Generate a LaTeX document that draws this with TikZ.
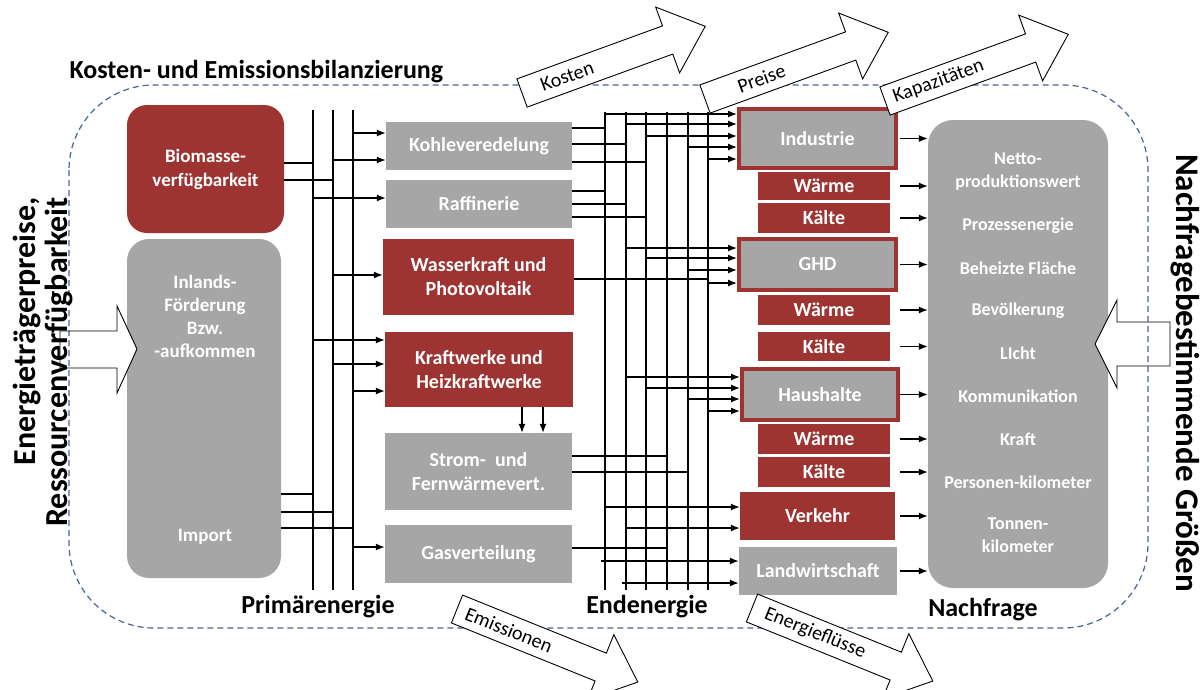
\documentclass[tikz,border=0pt]{standalone}
\usepackage{fontspec}
\setmainfont{Carlito}
\usetikzlibrary{arrows.meta}
\definecolor{myred}{RGB}{158,52,50}
\definecolor{mygray}{RGB}{166,166,166}
\definecolor{dashblue}{RGB}{70,100,150}
\newcommand\myfs[2]{\fontsize{#1}{#2}\selectfont}
\newcommand\hollowarr[7]{%
  \begin{scope}[shift={(#1,#2)},rotate=#3]
    \draw[hollow] (0,-15) -- (#4-40,-15) -- (#4-40,-35) -- (#4,0) -- (#4-40,35) -- (#4-40,15) -- (0,15) -- cycle;
    \node[flow,rotate=#3] (#5) at (#6,0) {#7};
  \end{scope}}
\begin{document}
\begin{tikzpicture}[x=1pt,y=-1pt,
  box/.style={inner sep=0pt,align=center,text=white,font=\bfseries\myfs{20}{24}},
  boxsmall/.style={box,font=\bfseries\myfs{19}{23}},
  redbox/.style={box,fill=myred},
  graybox/.style={box,fill=mygray},
  sectbox/.style={box,fill=mygray,draw=myred,line width=4pt},
  nitem/.style={box,font=\bfseries\myfs{18}{23}},
  line/.style={line width=1.3pt},
  arr/.style={line,-{Latex[length=9pt,width=7pt]}},
  hollow/.style={draw=black,fill=white,line width=0.9pt,line join=miter},
  head/.style={font=\bfseries\myfs{26}{30}},
  flow/.style={font=\myfs{20}{24},inner sep=1pt},
  big/.style={font=\bfseries\myfs{32}{32},inner sep=0pt},
]
\useasboundingbox (0,0) rectangle (1204,689);

% ---------- boxes: primary side
\node[redbox,rounded corners=20pt,minimum width=157pt,minimum height=128pt,font=\bfseries\myfs{19}{24}] (bio) at (205.5,169) {Biomasse-\\verfügbarkeit};
\node[graybox,rounded corners=22pt,minimum width=154pt,minimum height=339pt] (inl) at (204,408.5) {};
\node[boxsmall] (inltxt) at (205,316) {Inlands-\\Förderung\\Bzw.\\-aufkommen};
\node[boxsmall] (imp) at (205,537) {Import};

% ---------- conversion boxes
\node[graybox,minimum width=186pt,minimum height=48pt] (kohle) at (479,146) {Kohleveredelung};
\node[graybox,minimum width=186pt,minimum height=48pt] (raff) at (479,204) {Raffinerie};
\node[redbox,minimum width=191pt,minimum height=76pt] (wass) at (478.5,277) {Wasserkraft und\\Photovoltaik};
\node[redbox,minimum width=188pt,minimum height=75pt] (kraft) at (479,369.5) {Kraftwerke und\\Heizkraftwerke};
\node[graybox,minimum width=187pt,minimum height=77pt] (strom) at (478.5,471.5) {Strom-\ \ und\\Fernwärmevert.};
\node[graybox,minimum width=187pt,minimum height=58pt] (gas) at (478.5,554) {Gasverteilung};

% ---------- sectors
\node[sectbox,minimum width=157pt,minimum height=59pt] (ind) at (817.5,138.5) {Industrie};
\node[redbox,minimum width=132pt,minimum height=28pt] (indW) at (824,186) {Wärme};
\node[redbox,minimum width=132pt,minimum height=30pt] (indK) at (824,218) {Kälte};
\node[sectbox,minimum width=157pt,minimum height=51pt] (ghd) at (817.5,264.5) {GHD};
\node[redbox,minimum width=132pt,minimum height=30pt] (ghdW) at (824,310) {Wärme};
\node[redbox,minimum width=132pt,minimum height=29pt] (ghdK) at (824,346.5) {Kälte};
\node[sectbox,minimum width=156pt,minimum height=51pt] (hh) at (820,394.5) {Haushalte};
\node[redbox,minimum width=132pt,minimum height=30pt] (hhW) at (824,439) {Wärme};
\node[redbox,minimum width=132pt,minimum height=30pt] (hhK) at (824,472) {Kälte};
\node[redbox,minimum width=155pt,minimum height=48pt] (verk) at (817.5,516) {Verkehr};
\node[graybox,minimum width=158pt,minimum height=48pt] (land) at (818,571) {Landwirtschaft};

% ---------- demand box
\node[graybox,rounded corners=25pt,minimum width=180pt,minimum height=468pt] (nach) at (1018,354) {};
\node[nitem] (n1) at (1018,171.5) {Netto-\\produktionswert};
\node[nitem] (n2) at (1018,226) {Prozessenergie};
\node[nitem] (n3) at (1018,268) {Beheizte Fläche};
\node[nitem] (n4) at (1018,311) {Bevölkerung};
\node[nitem] (n5) at (1018,353) {LIcht};
\node[nitem] (n6) at (1018,396) {Kommunikation};
\node[nitem] (n7) at (1018,439) {Kraft};
\node[nitem] (n8) at (1018,482) {Personen-kilometer};
\node[nitem] (n9) at (1018,535.5) {Tonnen-\\kilometer};

% ---------- side hollow arrows
\draw[hollow] (60,331) -- (117,331) -- (117,306) -- (137,349) -- (117,393) -- (117,368) -- (60,368) -- cycle;
\draw[hollow] (1170,322) -- (1117,322) -- (1117,300) -- (1095,344) -- (1117,388) -- (1117,366) -- (1170,366) -- cycle;

% ---------- dashed frame
\draw[dashblue,line width=1.2pt,dash pattern=on 6pt off 4pt,rounded corners=85pt] (69,85) rectangle (1148,628);

% ---------- primary bus
\foreach \n/\x in {1/313,2/333,3/353}{
  \coordinate (p\n t) at (\x,110);
  \coordinate (p\n b) at (\x,590);
  \draw[line] (p\n t) -- (p\n b);
}
\draw[line] (bio.east |- 0,163) -- (p1t |- 0,163);
\draw[line] (bio.east |- 0,180) -- (p2t |- 0,180);
\draw[line] (inl.east |- 0,494) -- (p1t |- 0,494);
\draw[line] (inl.east |- 0,512) -- (p2t |- 0,512);
\draw[line] (inl.east |- 0,528) -- (p3t |- 0,528);
\draw[arr] (p3t |- 0,133) -- (kohle.west |- 0,133);
\draw[arr] (p2t |- 0,160) -- (kohle.west |- 0,160);
\draw[arr] (p1t |- 0,198) -- (raff.west |- 0,198);
\draw[arr] (p2t |- 0,275) -- (wass.west |- 0,275);
\draw[arr] (p1t |- 0,340) -- (kraft.west |- 0,340);
\draw[arr] (p2t |- 0,364) -- (kraft.west |- 0,364);
\draw[arr] (p3t |- 0,391) -- (kraft.west |- 0,391);
\draw[arr] (p3t |- 0,547) -- (gas.west |- 0,547);
\draw[arr] (kraft.south -| 522,0) -- (strom.north -| 522,0);
\draw[arr] (kraft.south -| 543,0) -- (strom.north -| 543,0);

% ---------- final energy bus
\foreach \n/\x in {1/605,2/626,3/646,4/667,5/688,6/708}{
  \coordinate (e\n t) at (\x,112);
  \coordinate (e\n b) at (\x,590);
  \draw[line] (e\n t) -- (e\n b);
}
\draw[line] (kohle.east |- 0,128) -- (e1t |- 0,128);
\draw[line] (kohle.east |- 0,144) -- (e2t |- 0,144);
\draw[line] (kohle.east |- 0,162) -- (e3t |- 0,162);
\draw[line] (raff.east |- 0,191) -- (e1t |- 0,191);
\draw[line] (raff.east |- 0,204) -- (e2t |- 0,204);
\draw[line] (raff.east |- 0,217) -- (e3t |- 0,217);
\draw[line] (wass.east |- 0,279) -- (e6t |- 0,279);
\draw[line] (strom.east |- 0,456) -- (e4t |- 0,456);
\draw[line] (strom.east |- 0,472) -- (e5t |- 0,472);
\draw[line] (gas.east |- 0,548) -- (e4t |- 0,548);
\foreach \e/\y in {1/114,2/124,3/136,5/147,6/159}
  \draw[arr] (e\e t |- 0,\y) -- (ind.west |- 0,\y);
\foreach \e/\y in {2/248,3/258,5/270,6/283}
  \draw[arr] (e\e t |- 0,\y) -- (ghd.west |- 0,\y);
\foreach \e/\y in {2/377,3/388,5/399,6/411}
  \draw[arr] (e\e t |- 0,\y) -- (hh.west |- 0,\y);
\foreach \e/\y in {1/507,2/528}
  \draw[arr] (e\e t |- 0,\y) -- (verk.west |- 0,\y);
\draw[arr] ([xshift=-4pt]e1t |- 0,561) -- (land.west |- 0,561);
\draw[arr] ([xshift=-4pt]e2t |- 0,583) -- (land.west |- 0,583);

% ---------- sector outputs to demand
\coordinate (ra) at (900,0);
\foreach \b in {ind,indW,indK,ghd,ghdW,ghdK,hh,hhW,hhK,verk,land}
  \draw[arr] (ra |- \b.east) -- (nach.west |- \b.east);

% ---------- headings
\node[head] (hprim) at (318,607) {Primärenergie};
\node[head] (hend) at (647,607) {Endenergie};
\node[head] (hnach) at (983,610) {Nachfrage};
\node[head,anchor=west] (hkost) at (66,72) {Kosten- und Emissionsbilanzierung};

% ---------- slanted hollow arrows
\hollowarr{522}{93}{20}{195}{tk}{48}{Kosten}
\hollowarr{705}{99}{20}{195}{tp}{60}{Preise}
\hollowarr{885}{101}{20}{195}{tc}{57}{Kapazitäten}
\hollowarr{457}{609}{-22}{195}{be}{56}{Emissionen}
\hollowarr{752}{608}{-22}{195}{bf}{68}{Energieflüsse}

% ---------- side labels
\node[big,rotate=90,anchor=east] (lt1) at (27,197) {Energieträgerpreise,};
\node[big,rotate=90,anchor=east] (lt2) at (59,197) {Ressourcenverfügbarkeit};
\node[big,rotate=-90,font=\bfseries\myfs{33}{33}] (rt) at (1185,373) {Nachfragebestimmende Größen};
\end{tikzpicture}
\end{document}
